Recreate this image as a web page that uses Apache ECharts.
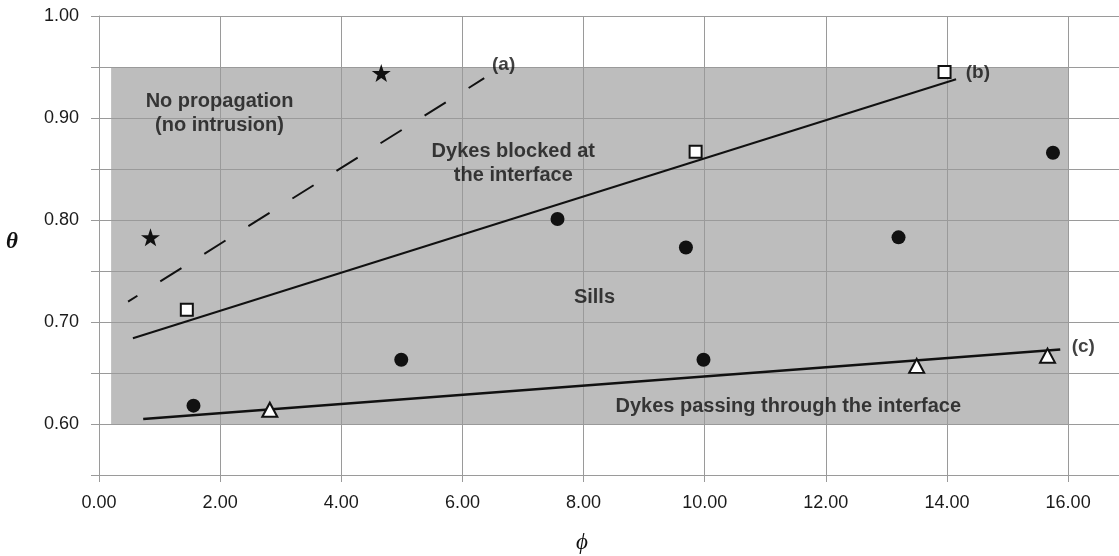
<!DOCTYPE html>
<html><head><meta charset="utf-8">
<script src="https://cdn.jsdelivr.net/npm/echarts@6/dist/echarts.min.js"></script>
<style>html,body{margin:0;padding:0;background:#fff}#c{width:1119px;height:556px}</style>
</head><body><div id="c"></div>
<script>
// ---- data ----
const starPts = [[0.85, 0.783], [4.66, 0.944]];
const squarePts = [[1.45, 0.712], [9.85, 0.867], [13.96, 0.945]];
const circlePts = [[1.56, 0.618], [4.99, 0.663], [7.57, 0.801], [9.69, 0.773], [9.98, 0.663], [13.2, 0.783], [15.75, 0.866]];
const trianglePts = [[2.82, 0.614], [13.5, 0.657], [15.66, 0.667]];
const lineA = [[0.48, 0.72], [6.36, 0.939]];
const lineB = [[0.56, 0.684], [14.15, 0.938]];
const lineC = [[0.73, 0.605], [15.87, 0.673]];
const regionX = [0.2, 16.0];
const regionY = [0.60, 0.95];
const xTickLabels = ['0.00', '2.00', '4.00', '6.00', '8.00', '10.00', '12.00', '14.00', '16.00'];
const yTickLabels = ['0.60', '0.70', '0.80', '0.90', '1.00'];
const regionNames = ['No propagation\n(no intrusion)', 'Dykes blocked at\nthe interface', 'Sills', 'Dykes passing through the interface'];
const regionPos = [[1.99, 0.904], [6.84, 0.855], [8.18, 0.724], [11.38, 0.617]];
const curveNames = ['(a)', '(b)', '(c)'];
const curvePos = [[6.68, 0.952], [14.51, 0.944], [16.25, 0.6755]];

const STAR = 'path://M50,0 L61.8,35.1 L98.9,35.1 L68.9,57.3 L79.4,92.7 L50,71.4 L20.6,92.7 L31.1,57.3 L1.1,35.1 L38.2,35.1 Z';
const FONT = '"Liberation Sans", Arial, sans-serif';
const TXT = '#111';
const xTickValues = xTickLabels.map(parseFloat);

const chart = echarts.init(document.getElementById('c'), null, {renderer: 'canvas'});
chart.setOption({
  animation: false,
  grid: {left: 99, top: 16, bottom: 81, right: 0, containLabel: false},
  xAxis: {
    type: 'value', min: 0, max: 16.84, interval: 2,
    axisLine: {show: true, lineStyle: {color: '#9a9a9a', width: 1}},
    axisTick: {show: true, length: 7, customValues: xTickValues, lineStyle: {color: '#9a9a9a'}},
    splitLine: {show: true, lineStyle: {color: '#9a9a9a', width: 1}},
    axisLabel: {
      margin: 19, fontSize: 18, color: '#1a1a1a', fontFamily: FONT, customValues: xTickValues,
      formatter: v => { const i = Math.round(v / 2); return (Math.abs(v - i * 2) < 1e-6 && i < xTickLabels.length) ? xTickLabels[i] : ''; }
    }
  },
  yAxis: {
    type: 'value', min: 0.55, max: 1.0, interval: 0.05,
    axisLine: {show: true, lineStyle: {color: '#9a9a9a', width: 1}},
    axisTick: {show: true, length: 8, lineStyle: {color: '#9a9a9a'}},
    splitLine: {show: true, lineStyle: {color: '#9a9a9a', width: 1}},
    axisLabel: {
      margin: 20, fontSize: 18, color: '#1a1a1a', fontFamily: FONT,
      formatter: v => { const k = Math.round(v * 20); if (k % 2 !== 0) return ''; const i = Math.round((v - 0.6) * 10); return (i >= 0 && i < yTickLabels.length) ? yTickLabels[i] : ''; }
    }
  },
  graphic: [
    {type: 'text', left: 6, top: 231, style: {text: 'θ', font: 'italic bold 23px "Liberation Serif", "DejaVu Serif", serif', fill: TXT}},
    {type: 'text', left: 576, top: 531, style: {text: 'ϕ', font: 'italic 23px "Liberation Serif", "DejaVu Serif", serif', fill: TXT}}
  ],
  series: [
    {
      type: 'custom', z: -1, silent: true,
      data: [[regionX[0], regionY[0], regionX[1], regionY[1]]],
      encode: {x: [0, 2], y: [1, 3]},
      renderItem: (params, api) => {
        const p0 = api.coord([api.value(0), api.value(1)]);
        const p1 = api.coord([api.value(2), api.value(3)]);
        return {type: 'rect', shape: {x: p0[0], y: p1[1], width: p1[0] - p0[0], height: p0[1] - p1[1]}, style: {fill: '#bdbdbd'}};
      }
    },
    {type: 'line', data: lineA, symbol: 'none', lineStyle: {color: '#111', width: 2, type: [25, 27], dashOffset: 14}, z: 3},
    {type: 'line', data: lineB, symbol: 'none', lineStyle: {color: '#111', width: 2}, z: 3},
    {type: 'line', data: lineC, symbol: 'none', lineStyle: {color: '#111', width: 2.5}, z: 3},
    {type: 'scatter', data: starPts, symbol: STAR, symbolSize: [19, 18], itemStyle: {color: '#111', opacity: 1}, z: 4},
    {type: 'scatter', data: squarePts, symbol: 'rect', symbolSize: 12, itemStyle: {color: '#fff', borderColor: '#111', borderWidth: 2, opacity: 1}, z: 4},
    {type: 'scatter', data: circlePts, symbol: 'circle', symbolSize: 14, itemStyle: {color: '#111', opacity: 1}, z: 4},
    {type: 'scatter', data: trianglePts, symbol: 'triangle', symbolSize: [15, 14], itemStyle: {color: '#fff', borderColor: '#111', borderWidth: 2, opacity: 1}, z: 4},
    {
      type: 'scatter', symbolSize: 0, z: 5, silent: true,
      data: regionNames.map((n, i) => ({name: n, value: regionPos[i]})),
      label: {show: true, position: 'inside', formatter: '{b}', fontSize: 20, lineHeight: 24, fontWeight: 'bold', fontFamily: FONT, color: TXT, align: 'center'}
    },
    {
      type: 'scatter', symbolSize: 0, z: 5, silent: true,
      data: curveNames.map((n, i) => ({name: n, value: curvePos[i]})),
      label: {show: true, position: 'inside', formatter: '{b}', fontSize: 19, fontWeight: 'bold', fontFamily: FONT, color: TXT}
    }
  ]
});
</script>
</body></html>
